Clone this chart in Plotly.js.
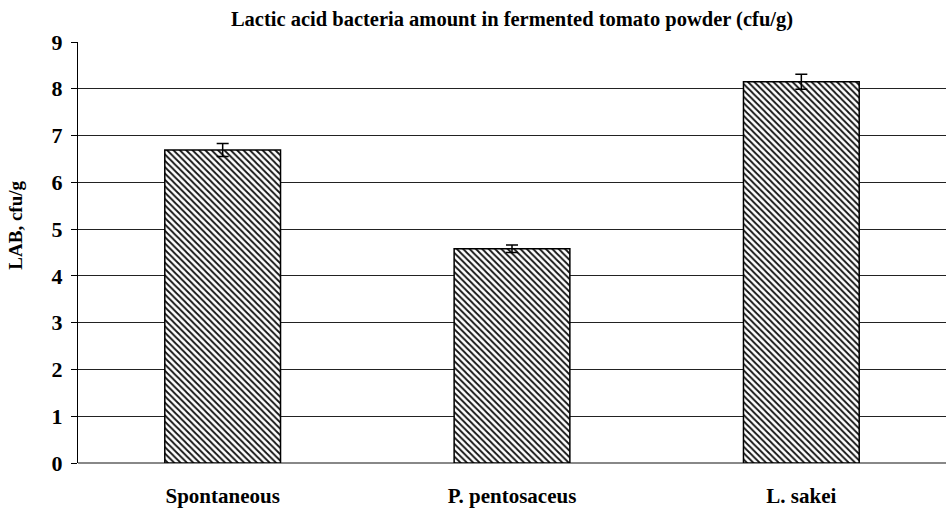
<!DOCTYPE html>
<html>
<head>
<script src="https://cdn.plot.ly/plotly-3.0.1.min.js"></script>
<style>html,body{margin:0;padding:0;background:#fff;}#chart{width:948px;height:513px;}</style>
</head>
<body>
<div id="chart"></div>
<script>
const categories = ["Spontaneous", "P. pentosaceus", "L. sakei"];
const values = [6.69, 4.58, 8.15];
const errors = [0.14, 0.08, 0.16];
const yTicks = [0, 1, 2, 3, 4, 5, 6, 7, 8, 9];
const yTitle = "LAB, cfu/g";

const font = "Liberation Serif, Times New Roman, serif";

const trace = {
  type: "bar",
  x: categories,
  y: values,
  width: 0.4,
  marker: {
    color: "#ffffff",
    line: {color: "#000000", width: 1.5},
    pattern: {shape: "\\", fgcolor: "#111111", bgcolor: "#ffffff", size: 4.5, solidity: 0.4}
  },
  error_y: {type: "data", array: errors, visible: true, color: "#000000", thickness: 1.5, width: 6},
  hoverinfo: "skip"
};

const layout = {
  width: 948, height: 513,
  margin: {l: 78, r: 2, t: 42, b: 50},
  paper_bgcolor: "#ffffff",
  plot_bgcolor: "#ffffff",
  showlegend: false,
  title: {text: "<b>Lactic acid bacteria amount in fermented tomato powder (cfu/g)</b>", font: {family: font, size: 20.5, color: "#000"}, xref: "paper", x: 0.5, xanchor: "center", y: 0.964, yanchor: "middle"},
  xaxis: {
    tickfont: {family: font, size: 21, color: "#000"},
    showgrid: false, showline: false, ticks: "", ticklabelstandoff: 18,
    tickvals: categories, ticktext: categories.map(c => "<b>" + c + "</b>"),
    fixedrange: true
  },
  yaxis: {
    range: [0, 9], tickvals: yTicks, ticktext: yTicks.map(v => "<b>" + v + "</b>"),
    tickfont: {family: font, size: 22, color: "#000"},
    showgrid: true, gridcolor: "#222222", gridwidth: 1,
    zeroline: true, zerolinecolor: "#888888", zerolinewidth: 2,
    showline: true, linecolor: "#000000", linewidth: 1,
    ticks: "outside", ticklen: 6, tickcolor: "#000", ticklabelstandoff: 4,
    fixedrange: true
  },
  annotations: [{
    text: "<b>" + yTitle + "</b>", textangle: -90, showarrow: false,
    xref: "paper", yref: "paper", x: -0.072, y: 0.565, xanchor: "center", yanchor: "middle",
    font: {family: font, size: 19, color: "#000"}
  }]
};

Plotly.newPlot("chart", [trace], layout, {displayModeBar: false, staticPlot: true});
</script>
</body>
</html>
